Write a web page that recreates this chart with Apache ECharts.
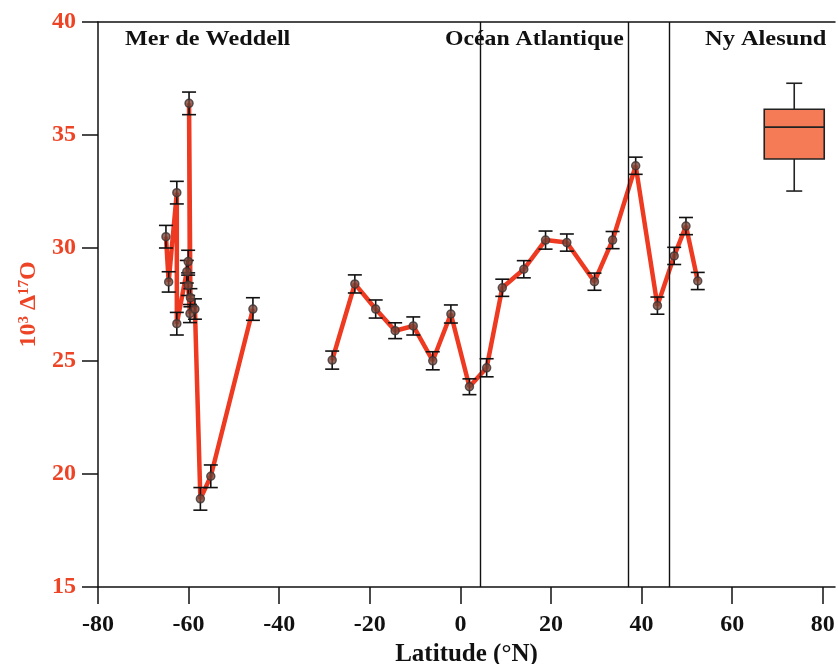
<!DOCTYPE html>
<html>
<head>
<meta charset="utf-8">
<script src="https://cdn.jsdelivr.net/npm/echarts@6/dist/echarts.min.js"></script>
<style>
  html, body { margin: 0; padding: 0; background: #fff; }
  #chart { width: 838px; height: 664px; }
</style>
</head>
<body>
<div id="chart"></div>
<script>
// Weddell Sea samples (latitude, 10^3 D17O, error)
var weddellLat = [-65.0, -64.4, -62.6, -62.6, -60.4, -60.1, -60.1, -59.7, -59.9, -59.6, -58.6, -57.4, -55.1, -45.8];
var weddellD17 = [30.5, 28.5, 32.45, 26.65, 28.95, 29.4, 28.35, 27.1, 36.4, 27.8, 27.3, 18.9, 19.9, 27.3];
var weddellErr = [0.5, 0.45, 0.5, 0.5, 0.5, 0.5, 0.45, 0.4, 0.5, 0.4, 0.45, 0.5, 0.5, 0.5];

// Atlantic transect + Ny Alesund samples
var atlanticLat = [-28.3, -23.3, -18.7, -14.4, -10.4, -6.1, -2.1, 2.0, 5.8, 9.25, 14.0, 18.8, 23.5, 29.6, 33.6, 38.7, 43.5, 47.2, 49.8, 52.4];
var atlanticD17 = [25.04, 28.41, 27.3, 26.34, 26.55, 25.01, 27.08, 23.86, 24.7, 28.24, 29.06, 30.35, 30.24, 28.51, 30.35, 33.64, 27.45, 29.65, 30.97, 28.54];
var atlanticErr = [0.4, 0.4, 0.4, 0.35, 0.4, 0.4, 0.4, 0.35, 0.4, 0.38, 0.38, 0.4, 0.38, 0.38, 0.38, 0.38, 0.38, 0.38, 0.38, 0.38];

// Ny Alesund box: [lat, min, q1, median, q3, max]
var nyBox = [73.7, 32.52, 33.94, 35.35, 36.14, 37.29];

// region separators
var dividerLat = [4.4, 37.1, 46.1];
var regionNames = ['Mer de Weddell', 'Océan Atlantique', 'Ny Alesund'];
var xTicks = [-80, -60, -40, -20, 0, 20, 40, 60, 80];

var lineColor = '#ef3a22';
var redText = '#ee4426';
var serif = '"Liberation Serif", "DejaVu Serif", serif';

function pairs(xs, ys) {
  return xs.map(function (x, i) { return [x, ys[i]]; });
}
function triples(xs, ys, es) {
  return xs.map(function (x, i) { return [x, ys[i], es[i]]; });
}

function renderErr(params, api) {
  var x = api.value(0), y = api.value(1), e = api.value(2);
  var top = api.coord([x, y + e]);
  var bot = api.coord([x, y - e]);
  var hw = 7;
  var st = { stroke: '#111', lineWidth: 1.6 };
  return {
    type: 'group',
    children: [
      { type: 'line', shape: { x1: top[0], y1: top[1], x2: bot[0], y2: bot[1] }, style: st },
      { type: 'line', shape: { x1: top[0] - hw, y1: top[1], x2: top[0] + hw, y2: top[1] }, style: st },
      { type: 'line', shape: { x1: bot[0] - hw, y1: bot[1], x2: bot[0] + hw, y2: bot[1] }, style: st }
    ]
  };
}

function renderBox(params, api) {
  var x = api.value(0);
  var pMin = api.coord([x, api.value(1)]);
  var pQ1 = api.coord([x, api.value(2)]);
  var pMed = api.coord([x, api.value(3)]);
  var pQ3 = api.coord([x, api.value(4)]);
  var pMax = api.coord([x, api.value(5)]);
  var bw = 30, cw = 8;
  var st = { stroke: '#222', lineWidth: 1.6 };
  return {
    type: 'group',
    children: [
      { type: 'line', shape: { x1: pMax[0], y1: pMax[1], x2: pQ3[0], y2: pQ3[1] }, style: st },
      { type: 'line', shape: { x1: pQ1[0], y1: pQ1[1], x2: pMin[0], y2: pMin[1] }, style: st },
      { type: 'line', shape: { x1: pMax[0] - cw, y1: pMax[1], x2: pMax[0] + cw, y2: pMax[1] }, style: st },
      { type: 'line', shape: { x1: pMin[0] - cw, y1: pMin[1], x2: pMin[0] + cw, y2: pMin[1] }, style: st },
      { type: 'rect', shape: { x: pQ3[0] - bw, y: pQ3[1], width: bw * 2, height: pQ1[1] - pQ3[1] },
        style: { fill: '#f47b56', stroke: '#222', lineWidth: 1.6 } },
      { type: 'line', shape: { x1: pMed[0] - bw, y1: pMed[1], x2: pMed[0] + bw, y2: pMed[1] }, style: st }
    ]
  };
}

var chart = echarts.init(document.getElementById('chart'));

var pointStyle = { color: '#7d4638', borderColor: '#3b3535', borderWidth: 1.5 };

var option = {
  backgroundColor: '#fff',
  animation: false,
  grid: { left: 98, right: 3, top: 22, bottom: 77, outerBoundsMode: 'none', containLabel: false },
  xAxis: [{
    type: 'value',
    min: -80,
    max: 82.7,
    interval: 20,
    name: 'Latitude (°N)',
    nameLocation: 'middle',
    nameGap: 52,
    nameTextStyle: { fontFamily: serif, fontWeight: 'bold', fontSize: 25, color: '#111' },
    axisLine: { onZero: false, lineStyle: { color: '#111', width: 1.5 } },
    axisTick: { show: true, inside: false, length: 17, customValues: xTicks, lineStyle: { color: '#111', width: 1.5 } },
    axisLabel: { customValues: xTicks, margin: 26, fontFamily: serif, fontWeight: 'bold', fontSize: 24, color: '#111' },
    splitLine: { show: false }
  }, {
    type: 'value',
    position: 'top',
    min: -80,
    max: 82.7,
    axisLine: { show: true, lineStyle: { color: '#111', width: 1.5 } },
    axisTick: { show: false },
    axisLabel: { show: false },
    splitLine: { show: false }
  }],
  yAxis: {
    type: 'value',
    min: 15,
    max: 40,
    interval: 5,
    name: '10{sup|3} Δ{sup|17}O',
    nameLocation: 'middle',
    nameGap: 56,
    nameRotate: 90,
    nameTextStyle: {
      fontFamily: serif, fontWeight: 'bold', fontSize: 24, color: redText,
      rich: {
        sup: { fontFamily: serif, fontWeight: 'bold', fontSize: 15, color: redText, verticalAlign: 'top', padding: [0, 0, 9, 0] }
      }
    },
    axisLine: { show: true, onZero: false, lineStyle: { color: '#111', width: 1.5 } },
    axisTick: { show: true, inside: false, length: 16, lineStyle: { color: '#111', width: 1.5 } },
    axisLabel: { margin: 22, fontFamily: serif, fontWeight: 'bold', fontSize: 24, color: redText },
    splitLine: { show: false }
  },
  series: [
    {
      type: 'line',
      data: pairs(weddellLat, weddellD17),
      showSymbol: false,
      lineStyle: { color: lineColor, width: 4.5 },
      z: 2,
      markLine: {
        silent: true,
        symbol: ['none', 'none'],
        label: { show: false },
        lineStyle: { color: '#111', type: 'solid', width: 1.4 },
        data: dividerLat.map(function (v) { return { xAxis: v }; })
      }
    },
    {
      type: 'line',
      data: pairs(atlanticLat, atlanticD17),
      showSymbol: false,
      lineStyle: { color: lineColor, width: 4.5 },
      z: 2
    },
    {
      type: 'custom',
      renderItem: renderErr,
      data: triples(weddellLat, weddellD17, weddellErr).concat(triples(atlanticLat, atlanticD17, atlanticErr)),
      z: 3
    },
    {
      type: 'scatter',
      data: pairs(weddellLat, weddellD17).concat(pairs(atlanticLat, atlanticD17)),
      symbolSize: 8,
      itemStyle: pointStyle,
      z: 4
    },
    {
      type: 'custom',
      renderItem: renderBox,
      data: [nyBox],
      z: 3
    }
  ],
  graphic: [
    { type: 'text', left: 125, top: 28, scaleX: 1.1, style: { text: regionNames[0], font: 'bold 22px ' + serif, fill: '#111' } },
    { type: 'text', left: 445, top: 28, scaleX: 1.08, style: { text: regionNames[1], font: 'bold 22px ' + serif, fill: '#111' } },
    { type: 'text', left: 705, top: 28, scaleX: 1.11, style: { text: regionNames[2], font: 'bold 22px ' + serif, fill: '#111' } }
  ]
};

chart.setOption(option);
</script>
</body>
</html>
